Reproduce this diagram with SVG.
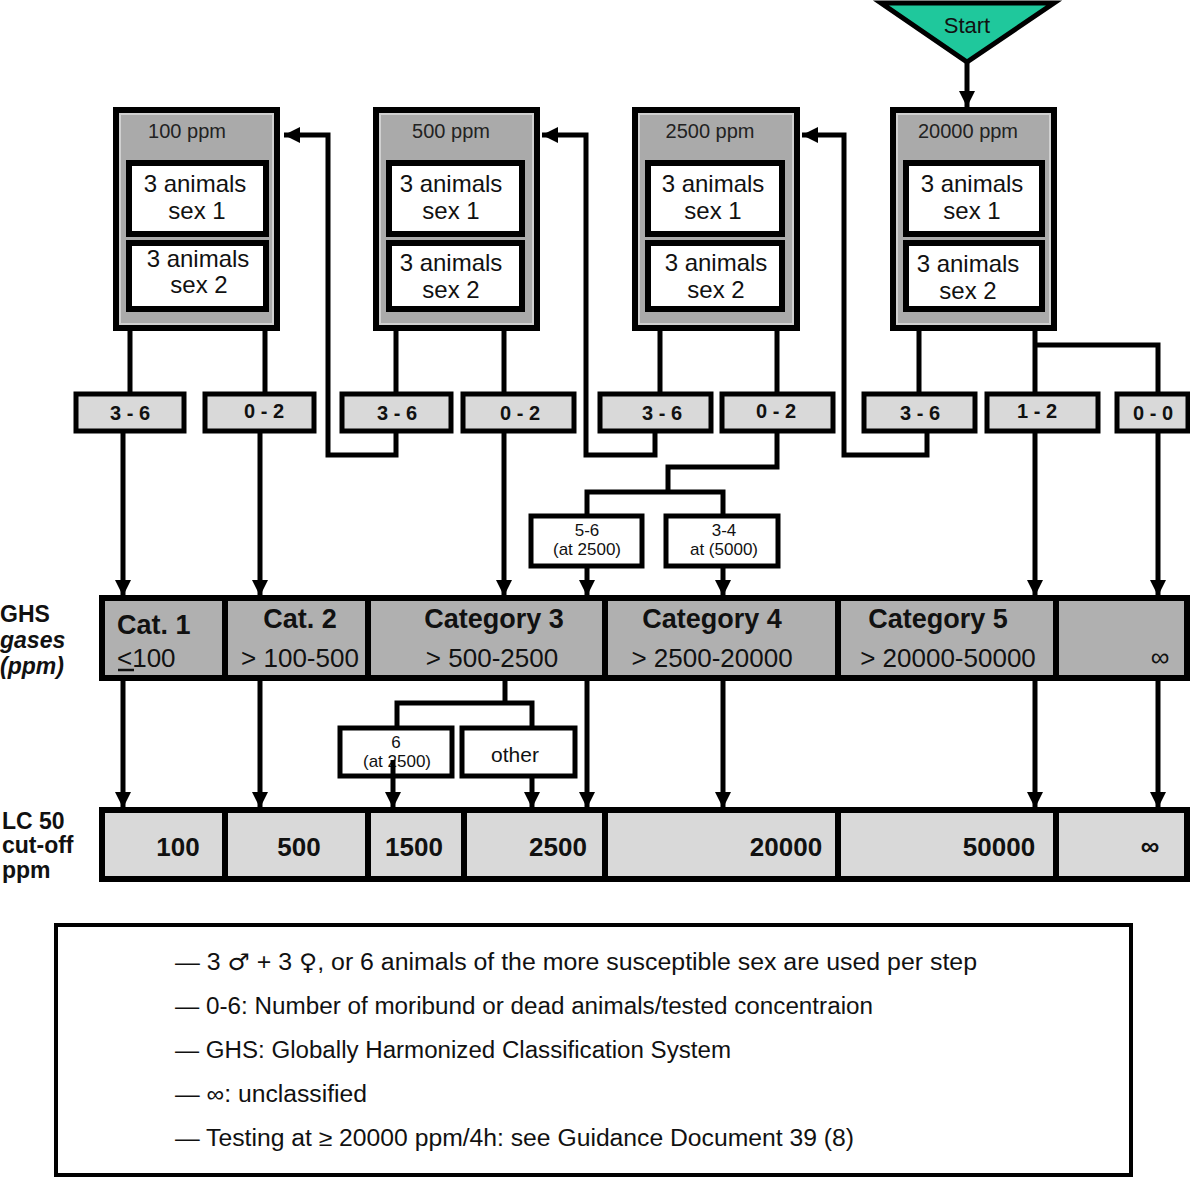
<svg xmlns="http://www.w3.org/2000/svg" width="1190" height="1179" viewBox="0 0 1190 1179">
<defs>
<marker id="ah" markerUnits="userSpaceOnUse" markerWidth="16" markerHeight="16" refX="14" refY="7" orient="auto" viewBox="0 0 14 14">
<path d="M0,0 L14,7 L0,14 z" fill="#000"/>
</marker>
<style>
text{font-family:"Liberation Sans",Arial,sans-serif;fill:#111}
.conc{fill:#aaaaaa;stroke:#000;stroke-width:6}
.concin{fill:none;stroke:#d0d0d0;stroke-width:2}
.wbox{fill:#fff;stroke:#000;stroke-width:6}
.res{fill:#d9d9d9;stroke:#000;stroke-width:5}
.sub{fill:#fff;stroke:#000;stroke-width:5}
.cat{fill:#b0b0b0;stroke:#000;stroke-width:6}
.lc{fill:#d9d9d9;stroke:#000;stroke-width:6}
.ttl{font-size:20px;text-anchor:middle;fill:#222}
.an{font-size:24px;text-anchor:middle}
.rt{font-size:20px;font-weight:bold;text-anchor:middle}
.st{font-size:17px;text-anchor:middle}
.ch{font-size:27px;font-weight:bold;text-anchor:middle}
.cr{font-size:26px;text-anchor:middle}
.lv{font-size:26px;font-weight:bold;text-anchor:middle}
.side{font-size:23px;font-weight:bold}
.leg{font-size:23px}
.c{fill:none;stroke:#000;stroke-width:5}
.ca{fill:none;stroke:#000;stroke-width:5;marker-end:url(#ah)}
</style>
</defs>
<rect width="1190" height="1179" fill="#fff"/>

<g id="start">
<polygon points="881,3 1054,3 967,62" fill="#1fc89c" stroke="#000" stroke-width="5" stroke-linejoin="miter"/>
<text x="967" y="33" style="font-size:22px;text-anchor:middle">Start</text>
</g>

<g id="conc100">
<rect class="conc" x="116" y="110" width="161" height="218"/>
<rect class="concin" x="120" y="114" width="153" height="210"/>
<text class="ttl" x="187" y="138">100 ppm</text>
<rect class="wbox" x="129" y="163" width="137" height="71"/>
<text class="an" x="195" y="192">3 animals</text>
<text class="an" x="197" y="219">sex 1</text>
<rect class="wbox" x="129" y="243" width="137" height="66"/>
<text class="an" x="198" y="267">3 animals</text>
<text class="an" x="199" y="293">sex 2</text>
</g>

<g id="conc500">
<rect class="conc" x="376" y="110" width="161" height="218"/>
<rect class="concin" x="380" y="114" width="153" height="210"/>
<text class="ttl" x="451" y="138">500 ppm</text>
<rect class="wbox" x="389" y="163" width="133" height="71"/>
<text class="an" x="451" y="192">3 animals</text>
<text class="an" x="451" y="219">sex 1</text>
<rect class="wbox" x="389" y="243" width="133" height="66"/>
<text class="an" x="451" y="271">3 animals</text>
<text class="an" x="451" y="298">sex 2</text>
</g>

<g id="conc2500">
<rect class="conc" x="635" y="110" width="162" height="218"/>
<rect class="concin" x="639" y="114" width="154" height="210"/>
<text class="ttl" x="710" y="138">2500 ppm</text>
<rect class="wbox" x="648" y="163" width="134" height="71"/>
<text class="an" x="713" y="192">3 animals</text>
<text class="an" x="713" y="219">sex 1</text>
<rect class="wbox" x="648" y="243" width="134" height="66"/>
<text class="an" x="716" y="271">3 animals</text>
<text class="an" x="716" y="298">sex 2</text>
</g>

<g id="conc20000">
<rect class="conc" x="893" y="110" width="161" height="218"/>
<rect class="concin" x="897" y="114" width="153" height="210"/>
<text class="ttl" x="968" y="138">20000 ppm</text>
<rect class="wbox" x="906" y="163" width="136" height="71"/>
<text class="an" x="972" y="192">3 animals</text>
<text class="an" x="972" y="219">sex 1</text>
<rect class="wbox" x="906" y="243" width="136" height="66"/>
<text class="an" x="968" y="272">3 animals</text>
<text class="an" x="968" y="299">sex 2</text>
</g>

<g id="r1"><rect class="res" x="76" y="394" width="108" height="37"/><text class="rt" x="130" y="420">3 - 6</text></g>
<g id="r2"><rect class="res" x="205" y="394" width="109" height="37"/><text class="rt" x="264" y="418">0 - 2</text></g>
<g id="r3"><rect class="res" x="342" y="394" width="109" height="37"/><text class="rt" x="397" y="420">3 - 6</text></g>
<g id="r4"><rect class="res" x="463" y="394" width="111" height="37"/><text class="rt" x="520" y="420">0 - 2</text></g>
<g id="r5"><rect class="res" x="600" y="394" width="111" height="37"/><text class="rt" x="662" y="420">3 - 6</text></g>
<g id="r6"><rect class="res" x="722" y="394" width="111" height="37"/><text class="rt" x="776" y="418">0 - 2</text></g>
<g id="r7"><rect class="res" x="864" y="394" width="111" height="37"/><text class="rt" x="920" y="420">3 - 6</text></g>
<g id="r8"><rect class="res" x="987" y="394" width="111" height="37"/><text class="rt" x="1037" y="418">1 - 2</text></g>
<g id="r9"><rect class="res" x="1117" y="394" width="71" height="37"/><text class="rt" x="1153" y="420">0 - 0</text></g>

<g id="s56"><rect class="sub" x="531" y="516" width="111" height="50"/><text class="st" x="587" y="536">5-6</text><text class="st" x="587" y="555">(at 2500)</text></g>
<g id="s34"><rect class="sub" x="666" y="516" width="112" height="50"/><text class="st" x="724" y="536">3-4</text><text class="st" x="724" y="555">at (5000)</text></g>

<g id="cats">
<rect class="cat" x="102" y="598" width="1085" height="80"/>
<line x1="225" y1="598" x2="225" y2="678" stroke="#000" stroke-width="6"/>
<line x1="368" y1="598" x2="368" y2="678" stroke="#000" stroke-width="6"/>
<line x1="605" y1="598" x2="605" y2="678" stroke="#000" stroke-width="6"/>
<line x1="838" y1="598" x2="838" y2="678" stroke="#000" stroke-width="6"/>
<line x1="1056" y1="598" x2="1056" y2="678" stroke="#000" stroke-width="6"/>
<text class="ch" x="117" y="634" style="text-anchor:start">Cat. 1</text>
<text class="cr" x="117" y="667" style="text-anchor:start">&lt;100</text>
<line x1="118" y1="670" x2="134" y2="670" stroke="#111" stroke-width="2.5"/>
<text class="ch" x="300" y="628">Cat. 2</text>
<text class="cr" x="300" y="667">&gt; 100-500</text>
<text class="ch" x="494" y="628">Category 3</text>
<text class="cr" x="492" y="667">&gt; 500-2500</text>
<text class="ch" x="712" y="628">Category 4</text>
<text class="cr" x="712" y="667">&gt; 2500-20000</text>
<text class="ch" x="938" y="628">Category 5</text>
<text class="cr" x="948" y="667">&gt; 20000-50000</text>
<text class="cr" x="1160" y="666">∞</text>
</g>

<g id="s6"><rect class="sub" x="340" y="728" width="112" height="48"/><text class="st" x="396" y="748">6</text><text class="st" x="397" y="767">(at 2500)</text></g>
<g id="sother"><rect class="sub" x="462" y="728" width="113" height="48"/><text x="515" y="762" style="font-size:21px;text-anchor:middle">other</text></g>

<g id="lc">
<rect class="lc" x="102" y="810" width="1085" height="69"/>
<line x1="225" y1="810" x2="225" y2="879" stroke="#000" stroke-width="6"/>
<line x1="368" y1="810" x2="368" y2="879" stroke="#000" stroke-width="6"/>
<line x1="464" y1="810" x2="464" y2="879" stroke="#000" stroke-width="6"/>
<line x1="605" y1="810" x2="605" y2="879" stroke="#000" stroke-width="6"/>
<line x1="838" y1="810" x2="838" y2="879" stroke="#000" stroke-width="6"/>
<line x1="1056" y1="810" x2="1056" y2="879" stroke="#000" stroke-width="6"/>
<text class="lv" x="178" y="856">100</text>
<text class="lv" x="299" y="856">500</text>
<text class="lv" x="414" y="856">1500</text>
<text class="lv" x="558" y="856">2500</text>
<text class="lv" x="786" y="856">20000</text>
<text class="lv" x="999" y="856">50000</text>
<text class="lv" x="1150" y="855">∞</text>
</g>

<g id="labels">
<text class="side" x="0" y="622">GHS</text>
<text class="side" x="0" y="648" font-style="italic">gases</text>
<text class="side" x="0" y="674" font-style="italic">(ppm)</text>
<text class="side" x="2" y="829">LC 50</text>
<text class="side" x="2" y="853">cut-off</text>
<text class="side" x="2" y="878">ppm</text>
</g>

<g id="connectors">
<path class="ca" d="M967 62 V107"/>
<path class="c" d="M130 330 V392 M265 330 V392 M396 330 V392 M504 330 V392 M660 330 V392 M777 330 V392 M919 330 V392 M1035 330 V392 M1035 345 H1158 V392"/>
<path class="ca" d="M123 432 V596"/>
<path class="ca" d="M260 432 V596"/>
<path class="ca" d="M396 432 V455 H328 V135 H284"/>
<path class="ca" d="M504 432 V596"/>
<path class="ca" d="M655 432 V455 H586 V135 H542"/>
<path class="c" d="M777 432 V467 H668 V492"/>
<path class="c" d="M587 515 V492 H723 V515"/>
<path class="ca" d="M587 567 V596"/>
<path class="ca" d="M723 567 V596"/>
<path class="ca" d="M927 432 V455 H844 V135 H802"/>
<path class="ca" d="M1035 432 V596"/>
<path class="ca" d="M1158 432 V596"/>
<path class="ca" d="M123 680 V808"/>
<path class="ca" d="M260 680 V808"/>
<path class="c" d="M505 680 V703"/>
<path class="c" d="M397 727 V703 H532 V727"/>
<path class="ca" d="M393 760 V808"/>
<path class="ca" d="M532 777 V808"/>
<path class="ca" d="M587 680 V808"/>
<path class="ca" d="M723 680 V808"/>
<path class="ca" d="M1035 680 V808"/>
<path class="ca" d="M1158 680 V808"/>
</g>

<g id="legend">
<rect x="56" y="925" width="1075" height="250" fill="#fff" stroke="#000" stroke-width="4"/>
<text class="leg" x="175" y="970" textLength="802" lengthAdjust="spacingAndGlyphs">— 3 <tspan style="font-family:'DejaVu Sans',sans-serif">♂</tspan> + 3 <tspan style="font-family:'DejaVu Sans',sans-serif">♀</tspan>, or 6 animals of the more susceptible sex are used per step</text>
<text class="leg" x="175" y="1014" textLength="698" lengthAdjust="spacingAndGlyphs">— 0-6: Number of moribund or dead animals/tested concentraion</text>
<text class="leg" x="175" y="1058" textLength="556" lengthAdjust="spacingAndGlyphs">— GHS: Globally Harmonized Classification System</text>
<text class="leg" x="175" y="1102" textLength="192" lengthAdjust="spacingAndGlyphs">— ∞: unclassified</text>
<text class="leg" x="175" y="1146" textLength="679" lengthAdjust="spacingAndGlyphs">— Testing at ≥ 20000 ppm/4h: see Guidance Document 39 (8)</text>
</g>
</svg>
